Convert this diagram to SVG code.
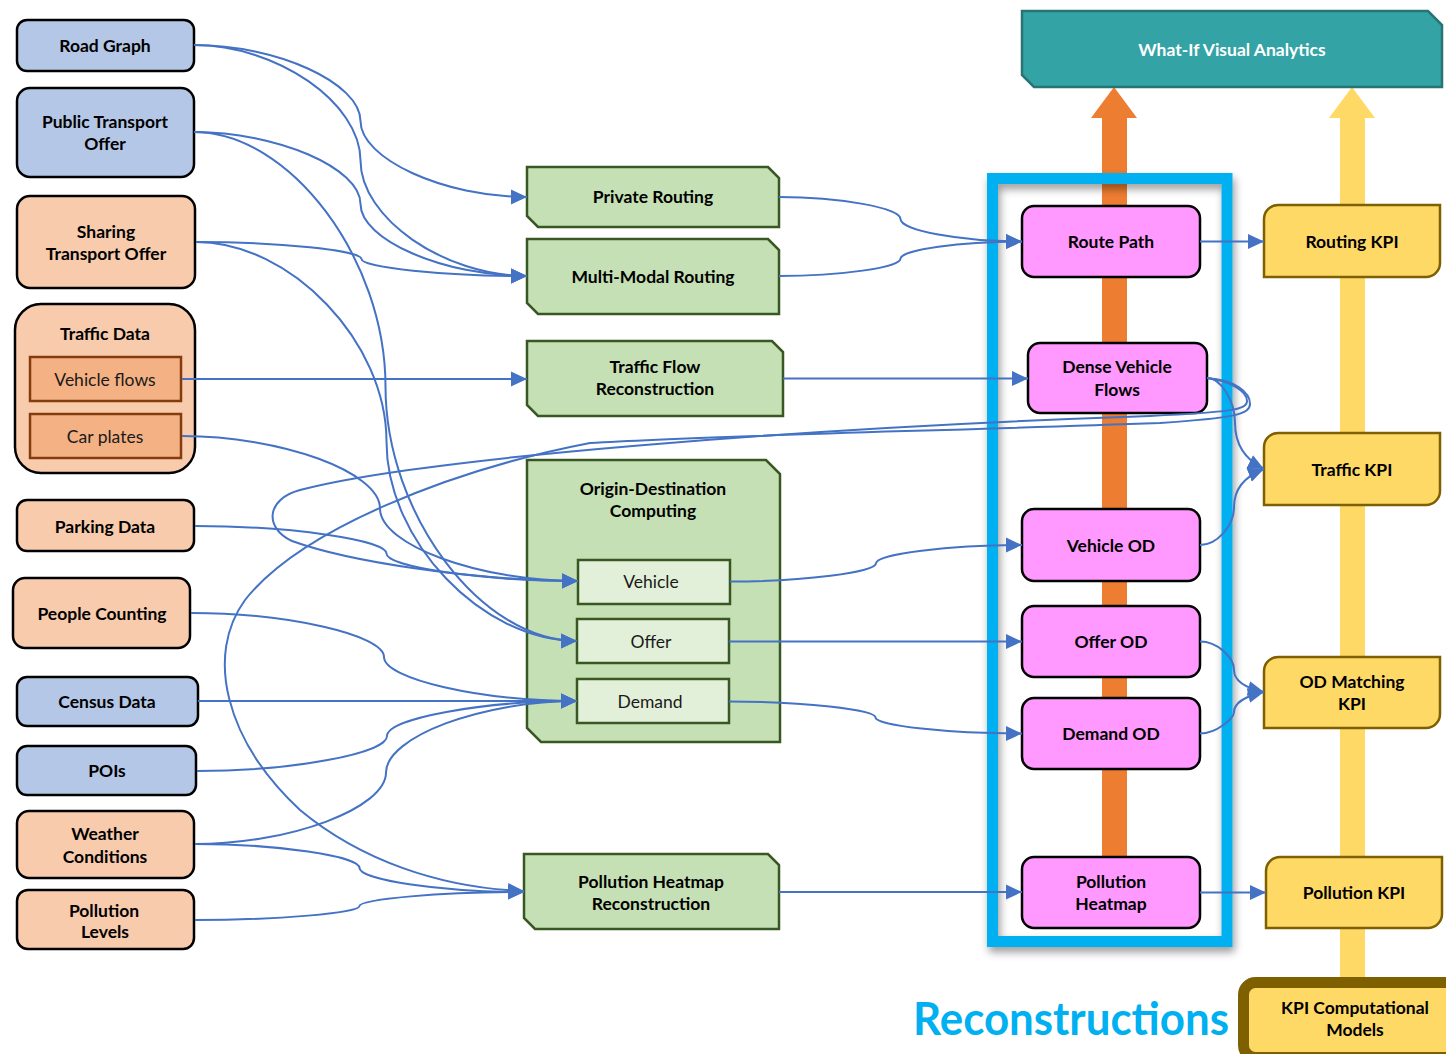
<svg xmlns="http://www.w3.org/2000/svg" width="1446" height="1054" viewBox="0 0 1446 1054">
  <defs>
    <style>
      .t { font-family: Lato, "Liberation Sans", sans-serif; font-size: 17.5px; font-weight: bold; text-anchor: middle; fill: #000; }
      .tr { font-family: Lato, "Liberation Sans", sans-serif; font-size: 17.5px; font-weight: normal; text-anchor: middle; fill: #1a1a1a; }
      .src-blue { fill: #B4C7E7; stroke: #000; stroke-width: 2.5; }
      .src-orange { fill: #F8CBAD; stroke: #000; stroke-width: 2.5; }
      .sub-orange { fill: #F4B183; stroke: #843C0C; stroke-width: 2.5; }
      .proc { fill: #C5E0B4; stroke: #385723; stroke-width: 2.5; }
      .proc-sub { fill: #E2F0D9; stroke: #385723; stroke-width: 2.5; }
      .rec { fill: #FF99FF; stroke: #000; stroke-width: 2.5; }
      .kpi { fill: #FFD966; stroke: #7F6000; stroke-width: 2.5; }
      .conn path, .conn line { fill: none; stroke: #4472C4; stroke-width: 2; }
      .arr { marker-end: url(#head); }
    </style>
    <marker id="head" markerUnits="userSpaceOnUse" markerWidth="16" markerHeight="16" viewBox="0 0 16 16" refX="16" refY="8" orient="auto">
      <path d="M0,0.5 L16,8 L0,15.5 Z" fill="#4472C4"/>
    </marker>
    <filter id="shadow" x="-10%" y="-10%" width="120%" height="120%">
      <feDropShadow dx="2" dy="5" stdDeviation="4" flood-color="#000" flood-opacity="0.4"/>
    </filter>
  </defs>

  <rect width="1446" height="1054" fill="#fff"/>

  <!-- wide flow arrows towards the analytics layer -->
  <polygon points="1114,87 1137,118 1127,118 1127,860 1102,860 1102,118 1091,118" fill="#ED7D31"/>
  <polygon points="1352,87 1375,118 1365,118 1365,982 1340,982 1340,118 1329,118" fill="#FFD966"/>

  <!-- reconstructions frame -->
  <rect x="992.5" y="178.5" width="234.5" height="763" fill="none" stroke="#00B0F0" stroke-width="11" filter="url(#shadow)"/>
  <text x="1071" y="1035" font-family="Lato, 'Liberation Sans', sans-serif" font-size="46" font-weight="bold" fill="#00B0F0" text-anchor="middle" textLength="316" lengthAdjust="spacingAndGlyphs">Reconstructions</text>

  <!-- analytics layer -->
  <g id="what-if">
    <polygon points="1022,11 1428,11 1442,25 1442,87 1034,87 1022,75" fill="#34A3A6" stroke="#277475" stroke-width="2.5"/>
    <text class="t" x="1232" y="56" style="fill:#fff">What-If Visual Analytics</text>
  </g>

  <!-- data sources -->
  <g id="road-graph">
    <rect class="src-blue" x="17" y="20" width="177" height="51" rx="10"/>
    <text class="t" x="105" y="52">Road Graph</text>
  </g>
  <g id="public-transport-offer">
    <rect class="src-blue" x="17" y="88" width="177" height="89" rx="13"/>
    <text class="t" x="105" y="128">Public Transport</text>
    <text class="t" x="105" y="150">Offer</text>
  </g>
  <g id="sharing-transport-offer">
    <rect class="src-orange" x="17" y="196" width="178" height="92" rx="13"/>
    <text class="t" x="106" y="238">Sharing</text>
    <text class="t" x="106" y="260">Transport Offer</text>
  </g>
  <g id="traffic-data">
    <rect class="src-orange" x="15" y="304" width="180" height="169" rx="26"/>
    <text class="t" x="105" y="340">Traffic Data</text>
    <g id="vehicle-flows">
      <rect class="sub-orange" x="30" y="357" width="151" height="44"/>
      <text class="tr" x="105" y="386">Vehicle flows</text>
    </g>
    <g id="car-plates">
      <rect class="sub-orange" x="30" y="414" width="151" height="44"/>
      <text class="tr" x="105" y="443">Car plates</text>
    </g>
  </g>
  <g id="parking-data">
    <rect class="src-orange" x="17" y="500" width="177" height="51" rx="10"/>
    <text class="t" x="105" y="533">Parking Data</text>
  </g>
  <g id="people-counting">
    <rect class="src-orange" x="13" y="578" width="177" height="70" rx="12"/>
    <text class="t" x="102" y="620">People Counting</text>
  </g>
  <g id="census-data">
    <rect class="src-blue" x="17" y="677" width="181" height="49" rx="10"/>
    <text class="t" x="107" y="708">Census Data</text>
  </g>
  <g id="pois">
    <rect class="src-blue" x="17" y="746" width="179" height="49" rx="10"/>
    <text class="t" x="107" y="777">POIs</text>
  </g>
  <g id="weather-conditions">
    <rect class="src-orange" x="17" y="811" width="177" height="67" rx="12"/>
    <text class="t" x="105" y="840">Weather</text>
    <text class="t" x="105" y="863">Conditions</text>
  </g>
  <g id="pollution-levels">
    <rect class="src-orange" x="17" y="890" width="177" height="59" rx="11"/>
    <text class="t" x="104" y="917">Pollution</text>
    <text class="t" x="105" y="938">Levels</text>
  </g>

  <!-- processing -->
  <g id="private-routing">
    <polygon class="proc" points="527,167 768,167 779,178 779,227 538,227 527,216"/>
    <text class="t" x="653" y="203">Private Routing</text>
  </g>
  <g id="multi-modal-routing">
    <polygon class="proc" points="527,239 768,239 779,250 779,314 538,314 527,303"/>
    <text class="t" x="653" y="283">Multi-Modal Routing</text>
  </g>
  <g id="traffic-flow-reconstruction">
    <polygon class="proc" points="527,341 772,341 783,352 783,416 538,416 527,405"/>
    <text class="t" x="655" y="373">Traffic Flow</text>
    <text class="t" x="655" y="395">Reconstruction</text>
  </g>
  <g id="od-computing">
    <polygon class="proc" points="527,460 766,460 780,474 780,742 541,742 527,728"/>
    <text class="t" x="653" y="495">Origin-Destination</text>
    <text class="t" x="653" y="517">Computing</text>
    <g id="od-vehicle">
      <rect class="proc-sub" x="578" y="560" width="152" height="44"/>
      <text class="tr" x="651" y="588">Vehicle</text>
    </g>
    <g id="od-offer">
      <rect class="proc-sub" x="577" y="619" width="152" height="44"/>
      <text class="tr" x="651" y="648">Offer</text>
    </g>
    <g id="od-demand">
      <rect class="proc-sub" x="577" y="679" width="152" height="44"/>
      <text class="tr" x="650" y="708">Demand</text>
    </g>
  </g>
  <g id="pollution-heatmap-reconstruction">
    <polygon class="proc" points="524,854 768,854 779,865 779,929 535,929 524,918"/>
    <text class="t" x="651" y="888">Pollution Heatmap</text>
    <text class="t" x="651" y="910">Reconstruction</text>
  </g>

  <!-- reconstructions -->
  <g id="route-path">
    <rect class="rec" x="1022" y="206" width="178" height="71" rx="12"/>
    <text class="t" x="1111" y="248">Route Path</text>
  </g>
  <g id="dense-vehicle-flows">
    <rect class="rec" x="1028" y="343" width="179" height="70" rx="12"/>
    <text class="t" x="1117" y="373">Dense Vehicle</text>
    <text class="t" x="1117" y="396">Flows</text>
  </g>
  <g id="vehicle-od">
    <rect class="rec" x="1022" y="509" width="178" height="72" rx="12"/>
    <text class="t" x="1111" y="552">Vehicle OD</text>
  </g>
  <g id="offer-od">
    <rect class="rec" x="1022" y="606" width="178" height="71" rx="12"/>
    <text class="t" x="1111" y="648">Offer OD</text>
  </g>
  <g id="demand-od">
    <rect class="rec" x="1022" y="698" width="178" height="71" rx="12"/>
    <text class="t" x="1111" y="740">Demand OD</text>
  </g>
  <g id="pollution-heatmap">
    <rect class="rec" x="1022" y="857" width="178" height="71" rx="12"/>
    <text class="t" x="1111" y="888">Pollution</text>
    <text class="t" x="1111" y="910">Heatmap</text>
  </g>

  <!-- KPIs -->
  <g id="routing-kpi">
    <path class="kpi" d="M1278,205 H1440 V263 A14,14 0 0 1 1426,277 H1264 V219 A14,14 0 0 1 1278,205 Z"/>
    <text class="t" x="1352" y="248">Routing KPI</text>
  </g>
  <g id="traffic-kpi">
    <path class="kpi" d="M1278,433 H1440 V491 A14,14 0 0 1 1426,505 H1264 V447 A14,14 0 0 1 1278,433 Z"/>
    <text class="t" x="1352" y="476">Traffic KPI</text>
  </g>
  <g id="od-matching-kpi">
    <path class="kpi" d="M1278,657 H1440 V714 A14,14 0 0 1 1426,728 H1264 V671 A14,14 0 0 1 1278,657 Z"/>
    <text class="t" x="1352" y="688">OD Matching</text>
    <text class="t" x="1352" y="710">KPI</text>
  </g>
  <g id="pollution-kpi">
    <path class="kpi" d="M1280,857 H1442 V914 A14,14 0 0 1 1428,928 H1266 V871 A14,14 0 0 1 1280,857 Z"/>
    <text class="t" x="1354" y="899">Pollution KPI</text>
  </g>
  <g id="kpi-models">
    <rect x="1243.5" y="982.5" width="230" height="75" rx="12" fill="#FFD966" stroke="#7F6000" stroke-width="11"/>
    <text class="t" x="1355" y="1014">KPI Computational</text>
    <text class="t" x="1355" y="1036">Models</text>
  </g>

  <!-- connectors -->
  <g id="connectors" class="conn">
    <path class="arr" d="M194,45 C277,45 360.5,83 360.5,121 C360.5,159 444,197 527,197"/>
    <path class="arr" d="M194,45 C277,45 360.5,103 360.5,160.5 C360.5,218 444,276 527,276"/>
    <path class="arr" d="M194,132 C277,132 360.5,168 360.5,204 C360.5,240 444,276 527,276"/>
    <path class="arr" d="M196,242 C279,242 361.5,250.5 361.5,259 C361.5,267.5 444,276 527,276"/>
    <path class="arr" d="M194,132 C290,132 385.5,259 385.5,386.5 C385.5,514 481,641 577,641"/>
    <path class="arr" d="M196,242 C291,242 386.5,342 386.5,441.5 C386.5,541 482,641 577,641"/>
    <line class="arr" x1="182" y1="379" x2="527" y2="379"/>
    <path class="arr" d="M182,436 C281,436 380,472 380,508.5 C380,545 479,581 578,581"/>
    <path class="arr" d="M195,526 C291,526 386.5,540 386.5,553.5 C386.5,567 482,581 578,581"/>
    <path class="arr" d="M191,613 C287.5,613 384,635 384,657 C384,679 480.5,701 577,701"/>
    <line class="arr" x1="198" y1="701" x2="577" y2="701"/>
    <path class="arr" d="M197,771 C292,771 387,753.5 387,736 C387,718.5 482,701 577,701"/>
    <path class="arr" d="M195,844 C290.5,844 386,808 386,772.5 C386,737 481.5,701 577,701"/>
    <path class="arr" d="M195,844 C277,844 359.5,856 359.5,868 C359.5,880 442,892 524,892"/>
    <path class="arr" d="M195,920 C277,920 359.5,913 359.5,906 C359.5,899 442,892 524,892"/>

    <path class="arr" d="M779,197 C840,197 900.5,208 900.5,219 C900.5,230.5 961,241.5 1022,241.5"/>
    <path class="arr" d="M779,276 C840,276 900.5,267.4 900.5,258.75 C900.5,250 961,241.5 1022,241.5"/>
    <line class="arr" x1="783" y1="378.5" x2="1028" y2="378.5"/>
    <path class="arr" d="M730,581.5 C803,581.5 876,572.4 876,563.25 C876,554 949,545 1022,545"/>
    <line class="arr" x1="729" y1="641.5" x2="1022" y2="641.5"/>
    <path class="arr" d="M729,701.5 C802,701.5 875.5,709.5 875.5,717.5 C875.5,725.5 949,733.5 1022,733.5"/>
    <line class="arr" x1="779" y1="892" x2="1022" y2="892"/>

    <!-- dense flows feeding back into OD and pollution computing -->
    <path class="arr" d="M1207,378 C1230,381 1247,391 1247,401 C1247,410 1230,412 1150,416 C800,428 420,458 300,490 C266,499 264,528 292,541 C350,562 470,580 578,581"/>
    <path class="arr" d="M1207,378 C1235,380 1250,392 1250,404 C1250,414 1235,418 1160,423 C900,432 700,436 590,443 C450,470 300,530 245,600 C205,655 225,740 300,810 C360,860 440,888 524,891"/>

    <line class="arr" x1="1200" y1="241.5" x2="1264" y2="241.5"/>
    <path class="arr" d="M1207,378 C1221,378 1235,401 1235,423 C1235,446 1246,460 1264,469"/>
    <path class="arr" d="M1200,545 C1217,545 1234,526 1234,507 C1234,488 1246,476 1264,469"/>
    <path class="arr" d="M1200,641.5 C1217,641.5 1234,657 1234,670 C1234,681 1246,688 1264,692"/>
    <path class="arr" d="M1200,733.5 C1217,733.5 1234,718 1234,712 C1234,703 1246,696 1264,692"/>
    <line class="arr" x1="1200" y1="892.5" x2="1266" y2="892.5"/>
  </g>
</svg>
